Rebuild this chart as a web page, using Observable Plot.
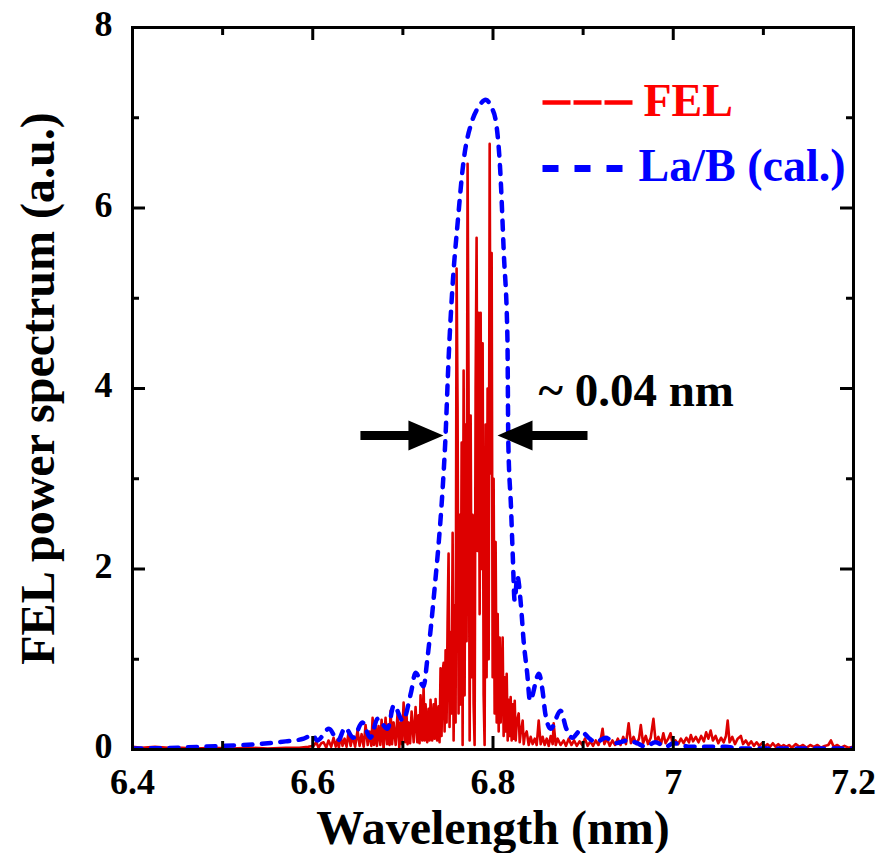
<!DOCTYPE html>
<html>
<head>
<meta charset="utf-8">
<style>
  html, body { margin: 0; padding: 0; background: #ffffff; }
  #chart svg { display: block; }
</style>
<script src="https://cdn.jsdelivr.net/npm/d3@7"></script>
<script src="https://cdn.jsdelivr.net/npm/@observablehq/plot@0.6"></script>
</head>
<body>
<div id="chart"></div>
<script>
// ---- tick values ----
const xMajorTicks = [6.4, 6.6, 6.8, 7, 7.2];
const xMinorTicks = [6.5, 6.7, 6.9, 7.1];
const yMajorTicks = [0, 2, 4, 6, 8];
const yMinorTicks = [1, 3, 5, 7];

// ---- series labels ----
const seriesLabels = ["FEL", "La/B (cal.)"];
const axisLabels = ["Wavelength (nm)", "FEL power spectrum (a.u.)"];
const widthLabel = ["~ 0.04 nm"];

// ---- La/B (cal.) calculated spectrum: wavelength (nm) and power ----
const labWavelength = [6.400, 6.450, 6.500, 6.540, 6.570, 6.590, 6.600, 6.605, 6.618, 6.628, 6.636, 6.645, 6.655, 6.664, 6.672, 6.683, 6.690, 6.700, 6.709, 6.714, 6.723, 6.727, 6.731, 6.736, 6.740, 6.744, 6.747, 6.751, 6.755, 6.761, 6.767, 6.777, 6.784, 6.792, 6.798, 6.803, 6.808, 6.812, 6.816, 6.817, 6.820, 6.822, 6.824, 6.827, 6.831, 6.834, 6.838, 6.841, 6.851, 6.855, 6.858, 6.864, 6.875, 6.881, 6.888, 6.897, 6.906, 6.914, 6.925, 6.936, 6.949, 6.960, 6.969, 6.980, 6.992, 7.000, 7.019, 7.038, 7.058, 7.075, 7.141, 7.200];
const labPower      = [0.01, 0.02, 0.04, 0.06, 0.09, 0.12, 0.16, 0.10, 0.23, 0.10, 0.24, 0.13, 0.30, 0.13, 0.34, 0.23, 0.49, 0.32, 0.63, 0.85, 0.70, 0.99, 1.35, 1.87, 2.32, 2.87, 3.40, 4.39, 5.12, 5.86, 6.49, 6.97, 7.12, 7.20, 7.12, 6.97, 6.42, 5.50, 4.56, 3.40, 2.68, 2.13, 1.65, 1.92, 1.60, 1.20, 0.84, 0.54, 0.84, 0.65, 0.40, 0.23, 0.43, 0.24, 0.13, 0.21, 0.13, 0.08, 0.13, 0.07, 0.10, 0.07, 0.03, 0.08, 0.03, 0.07, 0.03, 0.03, 0.03, 0.01, 0.01, 0.01];

// ---- FEL measured spectrum: [wavelength (nm), power] ----
const felSpectrum = [
  [6.400,0.03],[6.410,0.02],[6.425,0.03],[6.440,0.02],[6.455,0.02],[6.470,0.01],[6.490,0.02],[6.510,0.01],[6.530,0.02],[6.550,0.01],[6.570,0.02],[6.585,0.02],[6.595,0.03],
  [6.6009,0.04],[6.6040,0.08],[6.6064,0.02],[6.6095,0.07],[6.6120,0.08],[6.6150,0.02],[6.6175,0.10],[6.6205,0.03],[6.6231,0.13],[6.6255,0.03],[6.6275,0.11],[6.6290,0.02],
  [6.6309,0.16],[6.6330,0.04],[6.6353,0.12],[6.6375,0.03],[6.6397,0.19],[6.6420,0.04],[6.6442,0.15],[6.6470,0.03],[6.6497,0.21],[6.6520,0.04],[6.6542,0.17],[6.6565,0.03],
  [6.6586,0.27],[6.6610,0.05],[6.6630,0.20],[6.6650,0.04],[6.6664,0.35],[6.6680,0.05],[6.6697,0.25],[6.6712,0.04],[6.6730,0.26],[6.6750,0.05],[6.6764,0.33],[6.6786,0.01],
  [6.6808,0.35],[6.6825,0.06],[6.6841,0.28],[6.6852,0.05],[6.6863,0.43],[6.6880,0.06],[6.6897,0.30],[6.6920,0.05],[6.6941,0.40],[6.6960,0.02],[6.6974,0.30],[6.6990,0.06],
  [6.7008,0.52],[6.7025,0.08],[6.7041,0.38],[6.7052,0.06],[6.7063,0.30],[6.7080,0.07],[6.7097,0.42],[6.7120,0.08],[6.7141,0.47],[6.7160,0.08],[6.7174,0.38],[6.7185,0.07],
  [6.7196,0.60],[6.7215,0.10],[6.7230,0.69],[6.7241,0.10],[6.7252,0.50],[6.7270,0.08],[6.7285,0.45],[6.7296,0.10],[6.7307,0.55],[6.7325,0.10],[6.7341,0.50],[6.7352,0.12],
  [6.7363,0.56],[6.7380,0.10],[6.7396,0.48],[6.7407,0.08],
  [6.7418,0.90],[6.7429,0.15],[6.7441,0.85],[6.7452,0.96],[6.7463,0.20],[6.7474,1.10],[6.7485,0.30],[6.7496,1.40],[6.7507,2.17],[6.7518,0.25],[6.7529,1.30],[6.7541,0.40],
  [6.7552,2.40],[6.7563,0.10],[6.7574,1.60],[6.7585,0.30],[6.7596,5.33],[6.7607,3.80],[6.7618,0.40],[6.7630,2.60],[6.7641,0.50],[6.7652,3.40],[6.7663,0.05],[6.7674,4.20],
  [6.7685,0.60],[6.7696,3.60],[6.7707,1.20],[6.7718,6.49],[6.7729,4.00],[6.7741,0.10],[6.7752,3.70],[6.7763,0.80],[6.7774,2.60],[6.7785,0.50],[6.7796,0.05],[6.7807,4.00],
  [6.7818,5.67],[6.7829,2.20],[6.7840,4.84],[6.7852,1.50],[6.7863,4.84],[6.7874,2.00],[6.7885,4.50],[6.7896,0.60],[6.7907,0.05],[6.7918,3.60],[6.7929,0.80],[6.7940,4.00],
  [6.7952,1.00],[6.7963,6.71],[6.7974,3.06],[6.7985,5.50],[6.7996,0.80],[6.8007,3.00],[6.8018,0.40],[6.8029,2.30],[6.8041,0.30],[6.8052,1.50],[6.8063,0.20],[6.8074,1.24],
  [6.8085,0.30],[6.8107,1.24],[6.8118,0.15],[6.8130,0.80],[6.8141,0.20],[6.8152,0.84],[6.8163,0.10],[6.8174,0.55],[6.8185,0.15],[6.8196,0.58],[6.8207,0.10],[6.8219,0.50],
  [6.8230,0.12],[6.8241,0.54],[6.8252,0.10],[6.8263,0.30],[6.8285,0.40],[6.8296,0.08],[6.8307,0.18],[6.8329,0.32],[6.8341,0.06],[6.8352,0.15],[6.8374,0.20],[6.8396,0.05],
  [6.8418,0.14],[6.8440,0.06],[6.8463,0.12],[6.8485,0.05],[6.8507,0.32],[6.8529,0.06],[6.8551,0.14],[6.8573,0.05],[6.8596,0.12],[6.8618,0.04],[6.8640,0.15],[6.8662,0.06],
  [6.8673,0.29],[6.8696,0.05],[6.8718,0.12],[6.8750,0.05],[6.8784,0.10],[6.8810,0.04],[6.8840,0.12],[6.8870,0.05],[6.8900,0.10],[6.8930,0.04],[6.8960,0.09],[6.8990,0.05],
  [6.9020,0.12],[6.9050,0.04],[6.9080,0.09],[6.9110,0.04],[6.9140,0.10],[6.9170,0.05],[6.9200,0.14],[6.9216,0.23],[6.9235,0.06],[6.9265,0.12],[6.9295,0.04],[6.9325,0.10],
  [6.9355,0.05],[6.9385,0.12],[6.9415,0.05],[6.9445,0.14],[6.9475,0.06],[6.9505,0.29],[6.9530,0.07],[6.9560,0.14],[6.9590,0.06],[6.9620,0.12],[6.9640,0.27],[6.9665,0.07],
  [6.9695,0.15],[6.9720,0.06],[6.9750,0.13],[6.9780,0.34],[6.9805,0.08],[6.9835,0.14],[6.9865,0.06],[6.9890,0.18],[6.9915,0.07],[6.9945,0.12],[6.9970,0.18],[6.9995,0.05],
  [7.0025,0.10],[7.0055,0.06],[7.0085,0.12],[7.0115,0.07],[7.0145,0.13],[7.0175,0.08],[7.0195,0.16],[7.0220,0.09],[7.0250,0.14],[7.0280,0.08],[7.0310,0.15],[7.0340,0.09],
  [7.0365,0.19],[7.0390,0.12],[7.0415,0.21],[7.0440,0.10],[7.0470,0.15],[7.0500,0.07],[7.0530,0.13],[7.0560,0.08],[7.0585,0.15],[7.0604,0.32],[7.0625,0.08],[7.0655,0.14],
  [7.0685,0.06],[7.0715,0.12],[7.0750,0.15],[7.0775,0.06],[7.0805,0.10],[7.0835,0.05],[7.0865,0.09],[7.0895,0.04],[7.0925,0.08],[7.0955,0.04],[7.0985,0.07],[7.1015,0.03],
  [7.1045,0.06],[7.1075,0.03],[7.1105,0.07],[7.1135,0.03],[7.1165,0.06],[7.1195,0.03],[7.1225,0.05],[7.1255,0.03],[7.1285,0.05],[7.1315,0.02],[7.1360,0.06],[7.1400,0.03],
  [7.1440,0.05],[7.1480,0.02],[7.1520,0.05],[7.1560,0.03],[7.1600,0.05],[7.1640,0.02],[7.1680,0.04],[7.1720,0.05],[7.1750,0.10],[7.1780,0.03],[7.1820,0.05],[7.1860,0.02],
  [7.1900,0.04],[7.1940,0.02],[7.2000,0.03]
];

// ---- FWHM annotation: edges (nm) and level ----
const fwhmEdges = [6.745, 6.805];
const fwhmLevel = [3.48];

// ---- build ----
const W = 879, H = 853;
const M = {top: 27, right: 26, bottom: 104, left: 132};
const innerH = H - M.top - M.bottom;
const innerW = W - M.left - M.right;
const serif = "'Liberation Serif', 'Times New Roman', Times, serif";
const felColor = "#dd0000";
const legendRed = "#ff0000";
const labColor = "#0000ff";

const labData = labWavelength.map((w, i) => ({w, p: labPower[i]}));

const plainLine = {draw(ctx, l) { ctx.moveTo(0, 0); ctx.lineTo(0, -l); }};
const fatArrow = {draw(ctx, l) {
  const w = 4.5, hw = 15, hl = 35;
  ctx.moveTo(-w, 0); ctx.lineTo(-w, -(l - hl)); ctx.lineTo(-hw, -(l - hl));
  ctx.lineTo(0, -l); ctx.lineTo(hw, -(l - hl)); ctx.lineTo(w, -(l - hl));
  ctx.lineTo(w, 0); ctx.closePath();
}};

const bold = {fontFamily: serif, fontWeight: "bold"};

const chart = Plot.plot({
  width: W, height: H,
  marginTop: M.top, marginRight: M.right, marginBottom: M.bottom, marginLeft: M.left,
  x: {domain: [6.4, 7.2]},
  y: {domain: [0, 8]},
  style: {fontFamily: serif, color: "black", background: "white", overflow: "visible"},
  marks: [
    // data
    Plot.line(felSpectrum, {x: d => d[0], y: d => d[1], stroke: felColor, strokeWidth: 2.6, clip: true}),
    Plot.line(labData, {x: "w", y: "p", stroke: labColor, strokeWidth: 4.5, strokeDasharray: "9,9.5", curve: "monotone-x", clip: true}),

    // inward ticks
    Plot.tickX(xMajorTicks, {x: d => d, insetTop: innerH - 13, stroke: "black", strokeWidth: 3}),
    Plot.tickX(xMinorTicks, {x: d => d, insetTop: innerH - 8, stroke: "black", strokeWidth: 3}),
    Plot.tickX(xMajorTicks, {x: d => d, insetBottom: innerH - 13, stroke: "black", strokeWidth: 3}),
    Plot.tickX(xMinorTicks, {x: d => d, insetBottom: innerH - 8, stroke: "black", strokeWidth: 3}),
    Plot.tickY(yMajorTicks, {y: d => d, insetRight: innerW - 13, stroke: "black", strokeWidth: 3}),
    Plot.tickY(yMinorTicks, {y: d => d, insetRight: innerW - 7, stroke: "black", strokeWidth: 3}),
    Plot.tickY(yMajorTicks, {y: d => d, insetLeft: innerW - 13, stroke: "black", strokeWidth: 3}),
    Plot.tickY(yMinorTicks, {y: d => d, insetLeft: innerW - 7, stroke: "black", strokeWidth: 3}),

    // axes (labels only)
    Plot.axisX({ticks: xMajorTicks, tickSize: 0, tickPadding: 19, fontSize: 36, ...bold, tickFormat: d => String(d), label: null}),
    Plot.axisY({ticks: yMajorTicks, tickSize: 0, tickPadding: 20, fontSize: 36, ...bold, tickFormat: d => String(d), label: null, dy: -3}),

    // axis titles
    Plot.text([axisLabels[0]], {frameAnchor: "bottom", dy: 94, textAnchor: "middle", lineAnchor: "bottom", fontSize: 48, ...bold, fill: "black"}),
    Plot.text([axisLabels[1]], {frameAnchor: "left", dx: -79, rotate: -90, textAnchor: "middle", lineAnchor: "bottom", fontSize: 48, ...bold, fill: "black"}),

    // legend
    Plot.vector([seriesLabels[0]], {frameAnchor: "top-left", dx: 410, dy: 75, rotate: 90, length: 90, anchor: "start", shape: plainLine, stroke: legendRed, strokeWidth: 4.5, strokeLinecap: "butt", strokeDasharray: "28,3"}),
    Plot.text([seriesLabels[0]], {frameAnchor: "top-left", dx: 511, dy: 88, textAnchor: "start", lineAnchor: "bottom", fontSize: 46, ...bold, fill: legendRed}),
    Plot.vector([seriesLabels[1]], {frameAnchor: "top-left", dx: 410, dy: 141, rotate: 90, length: 80, anchor: "start", shape: plainLine, stroke: labColor, strokeWidth: 7, strokeLinecap: "butt", strokeDasharray: "16,16"}),
    Plot.text([seriesLabels[1]], {frameAnchor: "top-left", dx: 506, dy: 153, textAnchor: "start", lineAnchor: "bottom", fontSize: 46, ...bold, fill: labColor}),

    // FWHM arrows and label
    Plot.vector([fwhmEdges[0]], {x: d => d, y: () => fwhmLevel[0], rotate: 90, length: 83, anchor: "end", shape: fatArrow, fill: "black", stroke: "none"}),
    Plot.vector([fwhmEdges[1]], {x: d => d, y: () => fwhmLevel[0], rotate: -90, length: 90, anchor: "end", shape: fatArrow, fill: "black", stroke: "none"}),
    Plot.text(widthLabel, {frameAnchor: "top-left", dx: 406, dy: 378, textAnchor: "start", lineAnchor: "bottom", fontSize: 47, ...bold, fill: "black"}),

    Plot.frame({stroke: "black", strokeWidth: 3})
  ]
});

document.getElementById("chart").appendChild(chart);
</script>
</body>
</html>
